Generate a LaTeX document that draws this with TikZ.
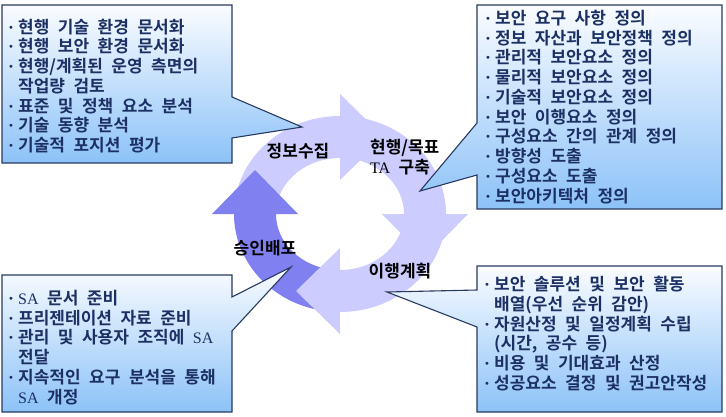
\documentclass[tikz,border=0pt]{standalone}
\usepackage{fontspec}
\newfontfamily\krb{Noto Sans CJK KR Bold}[WordSpace=2.2]
\newfontfamily\lser{Liberation Serif}
\newfontfamily\dvs{DejaVu Sans}
\usetikzlibrary{calc}
\definecolor{lav}{RGB}{204,204,255}
\definecolor{dlav}{RGB}{128,128,240}
\definecolor{navy}{RGB}{28,48,100}
\definecolor{bord}{RGB}{40,58,95}
\definecolor{gtop}{RGB}{250,252,255}
\definecolor{gbot}{RGB}{140,194,248}
\newcommand\bul{\makebox[10pt][l]{\raisebox{2pt}{\dvs\fontsize{10}{10}\selectfont •}}}
\newcommand\lat[1]{{\lser\fontsize{16}{16}\selectfont #1}}
\tikzset{
  callout/.style={draw=bord, line width=1.1pt, top color=gtop, bottom color=gbot, line join=miter},
  boxtxt/.style={anchor=base west, inner sep=0pt, text=navy, font=\krb\fontsize{17}{20}\selectfont},
  ringtxt/.style={anchor=base, inner sep=0pt, text=black, font=\krb\fontsize{17}{20}\selectfont},
  ringtxtl/.style={anchor=base west, inner sep=0pt, text=black, font=\krb\fontsize{17}{20}\selectfont},
}
% ring arrow: #1 colour, #2 start angle, #3 end angle, #4 outer wing, #5 tip, #6 inner wing
\newcommand\ringarrow[6]{%
  \fill[#1] ($(C)+(#2:106 and 98)$) arc[start angle=#2, end angle=#3, x radius=106, y radius=98]
    -- #4 -- #5 -- #6 -- ($(C)+(#3:64 and 56)$)
    arc[start angle=#3, end angle=#2, x radius=64, y radius=56] -- cycle;}
\begin{document}
\begin{tikzpicture}[x=1pt,y=-1pt]
\useasboundingbox (0,0) rectangle (726,417);
\coordinate (C) at (340,214);
% ring
\ringarrow{lav}{185}{270}{(340,94)}{(384,137)}{(340,180)}
\ringarrow{dlav}{95}{180}{(212,214)}{(255,170)}{(298,214)}
\ringarrow{lav}{5}{90}{(340,334)}{(296,291)}{(340,248)}
\ringarrow{lav}{275}{360}{(468,214)}{(425,258)}{(382,214)}
% callouts
\path[callout] (2,5) -- (232,5) -- (232,97) -- (302,127) -- (232,138) -- (232,163) -- (2,163) -- cycle;
\path[callout] (477,5) -- (722,5) -- (722,209) -- (477,209) -- (477,175) -- (420,191) -- (477,123) -- cycle;
\path[callout] (2,275) -- (232,275) -- (232,297) -- (291,267) -- (232,331) -- (232,412) -- (2,412) -- cycle;
\path[callout] (477,266) -- (722,266) -- (722,412) -- (477,412) -- (477,327) -- (387,292) -- (477,290) -- cycle;
% box 1
\node[boxtxt] (a1) at (8,33.3) {\bul 현행 기술 환경 문서화};
\node[boxtxt] (a2) at (8,53.0) {\bul 현행 보안 환경 문서화};
\node[boxtxt] (a3) at (8,72.7) {\bul 현행/계획된 운영 측면의};
\node[boxtxt] (a4) at (18,92.4) {작업량 검토};
\node[boxtxt] (a5) at (8,112.1) {\bul 표준 및 정책 요소 분석};
\node[boxtxt] (a6) at (8,131.8) {\bul 기술 동향 분석};
\node[boxtxt] (a7) at (8,151.5) {\bul 기술적 포지션 평가};
% box 2
\node[boxtxt] (b1) at (485,24.3) {\bul 보안 요구 사항 정의};
\node[boxtxt] (b2) at (485,44.1) {\bul 정보 자산과 보안정책 정의};
\node[boxtxt] (b3) at (485,63.9) {\bul 관리적 보안요소 정의};
\node[boxtxt] (b4) at (485,83.6) {\bul 물리적 보안요소 정의};
\node[boxtxt] (b5) at (485,103.4) {\bul 기술적 보안요소 정의};
\node[boxtxt] (b6) at (485,123.2) {\bul 보안 이행요소 정의};
\node[boxtxt] (b7) at (485,143.0) {\bul 구성요소 간의 관계 정의};
\node[boxtxt] (b8) at (485,162.8) {\bul 방향성 도출};
\node[boxtxt] (b9) at (485,182.5) {\bul 구성요소 도출};
\node[boxtxt] (b10) at (485,202.3) {\bul 보안아키텍처 정의};
% box 3
\node[boxtxt] (c1) at (8,304.3) {\bul \lat{SA} 문서 준비};
\node[boxtxt] (c2) at (8,324.1) {\bul 프리젠테이션 자료 준비};
\node[boxtxt] (c3) at (8,343.9) {\bul 관리 및 사용자 조직에 \lat{SA}};
\node[boxtxt] (c4) at (18,363.7) {전달};
\node[boxtxt] (c5) at (8,383.5) {\bul 지속적인 요구 분석을 통해};
\node[boxtxt] (c6) at (18,403.3) {\lat{SA} 개정};
% box 4
\node[boxtxt] (d1) at (484,290.5) {\bul 보안 솔루션 및 보안 활동};
\node[boxtxt] (d2) at (494,310.3) {배열(우선 순위 감안)};
\node[boxtxt] (d3) at (484,330.1) {\bul 자원산정 및 일정계획 수립};
\node[boxtxt] (d4) at (494,349.9) {(시간, 공수 등)};
\node[boxtxt] (d5) at (484,369.7) {\bul 비용 및 기대효과 산정};
\node[boxtxt] (d6) at (484,389.5) {\bul 성공요소 결정 및 권고안작성};
% ring labels
\node[ringtxt] (l1) at (298,157.3) {정보수집};
\node[ringtxtl] (l2) at (370,153.3) {현행/목표};
\node[ringtxtl] (l3) at (370,173.3) {\lat{TA} 구축};
\node[ringtxt] (l4) at (265,254.3) {승인배포};
\node[ringtxt] (l5) at (400,277.3) {이행계획};
\end{tikzpicture}
\end{document}
